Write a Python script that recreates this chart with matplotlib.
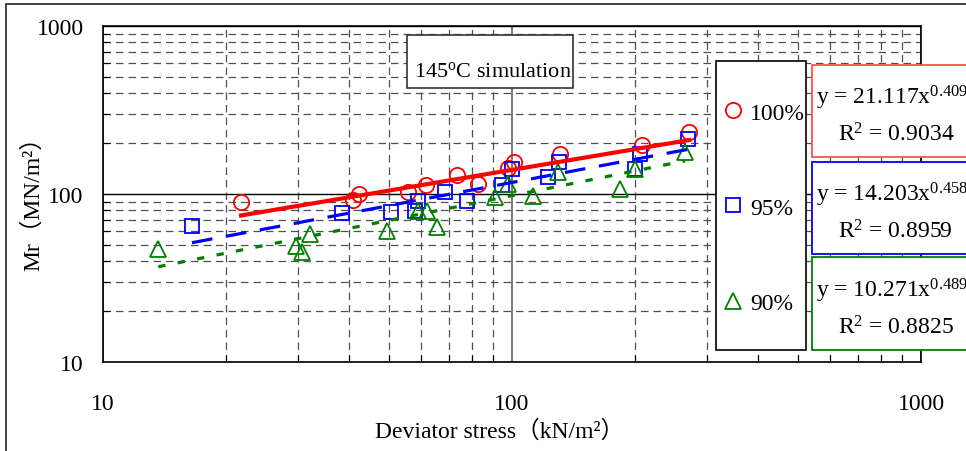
import matplotlib
matplotlib.use("Agg")
import matplotlib.pyplot as plt
from matplotlib.patches import Rectangle
from matplotlib.lines import Line2D
from matplotlib.ticker import FuncFormatter, NullFormatter

plt.rcParams['font.family'] = ['Liberation Serif', 'Noto Sans CJK JP']
plt.rcParams['mathtext.fontset'] = 'custom'
plt.rcParams['mathtext.rm'] = 'Liberation Serif'
plt.rcParams['mathtext.it'] = 'Liberation Serif:italic'

# ==========================================
# Dados (kN/m2 -> MN/m2)
# ==========================================
x100 = [21.75, 40.9, 42.3, 55.7, 61.6, 73.4, 82.6, 97.8, 101.1, 131.0, 207.9, 271.0]
y100 = [89.6, 92.1, 100.0, 102.8, 113.1, 129.8, 114.7, 142.8, 155.1, 173.0, 195.7, 233.9]

x95 = [16.5, 38.3, 50.6, 57.9, 59.0, 68.4, 77.6, 94.4, 99.8, 122.3, 130.3, 199.8, 205.6, 269.3]
y95 = [64.2, 76.8, 78.1, 79.2, 91.2, 103.2, 91.2, 113.1, 140.9, 127.1, 155.1, 140.9, 173.0, 212.5]

x90 = [13.65, 29.6, 30.6, 32.1, 49.5, 58.9, 62.0, 65.5, 90.9, 97.8, 112.5, 129.6, 183.7, 199.8, 264.9]
y90 = [47.0, 49.2, 45.2, 57.8, 60.2, 79.2, 79.2, 63.4, 95.6, 114.7, 97.3, 135.2, 107.1, 140.9, 177.8]

# linhas de tendência (extremos lidos)
fit100_x = [21.75, 271.0]
fit100_y = [74.5, 209.5]
fit95_x = [16.5, 269.3]
fit95_y = [51.3, 184.4]
fit90_x = [13.65, 264.9]
fit90_y = [36.9, 157.5]

labels = ["100%", "95%", "90%"]
equacoes = ["y = 21.117x$^{0.4094}$", "y = 14.203x$^{0.4582}$", "y = 10.271x$^{0.4893}$"]
r2 = ["R$^2$ = 0.9034", "R$^2$ = 0.8959", "R$^2$ = 0.8825"]

W, H = 966, 452


def fx(p):
    return p / W


def fy(p):
    return 1 - p / H


fig = plt.figure(figsize=(W / 100, H / 100), dpi=100)
ax = fig.add_axes([fx(103), fy(363), (921 - 103) / W, (363 - 27) / H])

# marcadores
ax.plot(x100, y100, ls="none", marker="o", ms=11, mfc="none", mec="red", mew=1.3, zorder=3)
ax.plot(x95, y95, ls="none", marker="s", ms=10, mfc="none", mec="blue", mew=1.3, zorder=3)
ax.plot(x90, y90, ls="none", marker="^", ms=11.5, mfc="none", mec="green", mew=1.3, zorder=3)

# tendências
ax.plot(fit100_x, fit100_y, color="red", lw=3.0, zorder=4)
ax.plot(fit95_x, fit95_y, color="blue", lw=2.3, ls=(0, (6.5, 4.3)), zorder=4)
ax.plot(fit90_x, fit90_y, color="green", lw=2.3, ls=(0, (2.3, 3.9)), zorder=4)

ax.set_xscale("log")
ax.set_yscale("log")
ax.set_xlim(10, 1000)
ax.set_ylim(10, 1000)

ax.grid(which="minor", ls=(0, (6, 4)), color="#505050", lw=0.9)
ax.xaxis.grid(which="major", color="#707070", lw=1.3, ls="-")
ax.yaxis.grid(which="major", color="black", lw=1.0, ls="-")
ax.set_axisbelow(True)

fmt = FuncFormatter(lambda v, p: f"{v:g}")
ax.xaxis.set_major_formatter(fmt)
ax.yaxis.set_major_formatter(fmt)
ax.xaxis.set_minor_formatter(NullFormatter())
ax.yaxis.set_minor_formatter(NullFormatter())
ax.tick_params(which="major", length=0, labelsize=17)
ax.tick_params(axis="x", which="major", pad=22)
ax.tick_params(axis="y", which="major", pad=14)
ax.tick_params(which="minor", direction="in", length=5, width=0.8)
for s in ax.spines.values():
    s.set_linewidth(1.2)

fig.text(fx(33), fy(198), "Mr（MN/m²）", rotation=90, ha="center", va="center", fontsize=17)
fig.text(fx(500), fy(432), "Deviator stress（kN/m²）", ha="center", va="center", fontsize=17)

# moldura externa
fig.add_artist(Rectangle((fx(6), -0.1), 1.2, fy(5) + 0.1, transform=fig.transFigure,
                         fill=False, edgecolor="#333333", lw=1.3))

# caixa de título
fig.add_artist(Rectangle((fx(407), fy(89)), (573 - 407) / W, (89 - 36) / H,
                         transform=fig.transFigure, facecolor="white", edgecolor="#333333", lw=1.2))
fig.text(fx(414), fy(77), r"145$^{\mathrm{o}}$C simulation", va="baseline", fontsize=16)

# legenda
fig.add_artist(Rectangle((fx(716), fy(351)), (806 - 716) / W, (351 - 62) / H,
                         transform=fig.transFigure, facecolor="white", edgecolor="black", lw=1.2))
handles = [
    Line2D([], [], ls="none", marker="o", ms=11, mfc="none", mec="red", mew=1.3),
    Line2D([], [], ls="none", marker="s", ms=10, mfc="none", mec="blue", mew=1.3),
    Line2D([], [], ls="none", marker="^", ms=11.5, mfc="none", mec="green", mew=1.3),
]
leg = fig.legend(handles, labels, loc="upper left", bbox_to_anchor=(fx(722), fy(103)),
                 frameon=False, fontsize=17, handlelength=0.95, handletextpad=0.25,
                 labelspacing=3.12, borderpad=0, borderaxespad=0)
leg.set_zorder(6)

# caixas das equações
cores_caixa = ["#ff5050", "blue", "green"]
topos = [65.7, 162.7, 258.3]
for cor, topo, eq, r in zip(cores_caixa, topos, equacoes, r2):
    fig.add_artist(Rectangle((fx(812), fy(topo + 92.6)), 200 / W, 92.6 / H,
                             transform=fig.transFigure, facecolor="white", edgecolor=cor, lw=1.3))
    fig.text(fx(816), fy(topo + 39.3), eq, va="baseline", fontsize=17)
    fig.text(fx(838), fy(topo + 76.3), r, va="baseline", fontsize=17)

fig.savefig("out.png", dpi=100)
